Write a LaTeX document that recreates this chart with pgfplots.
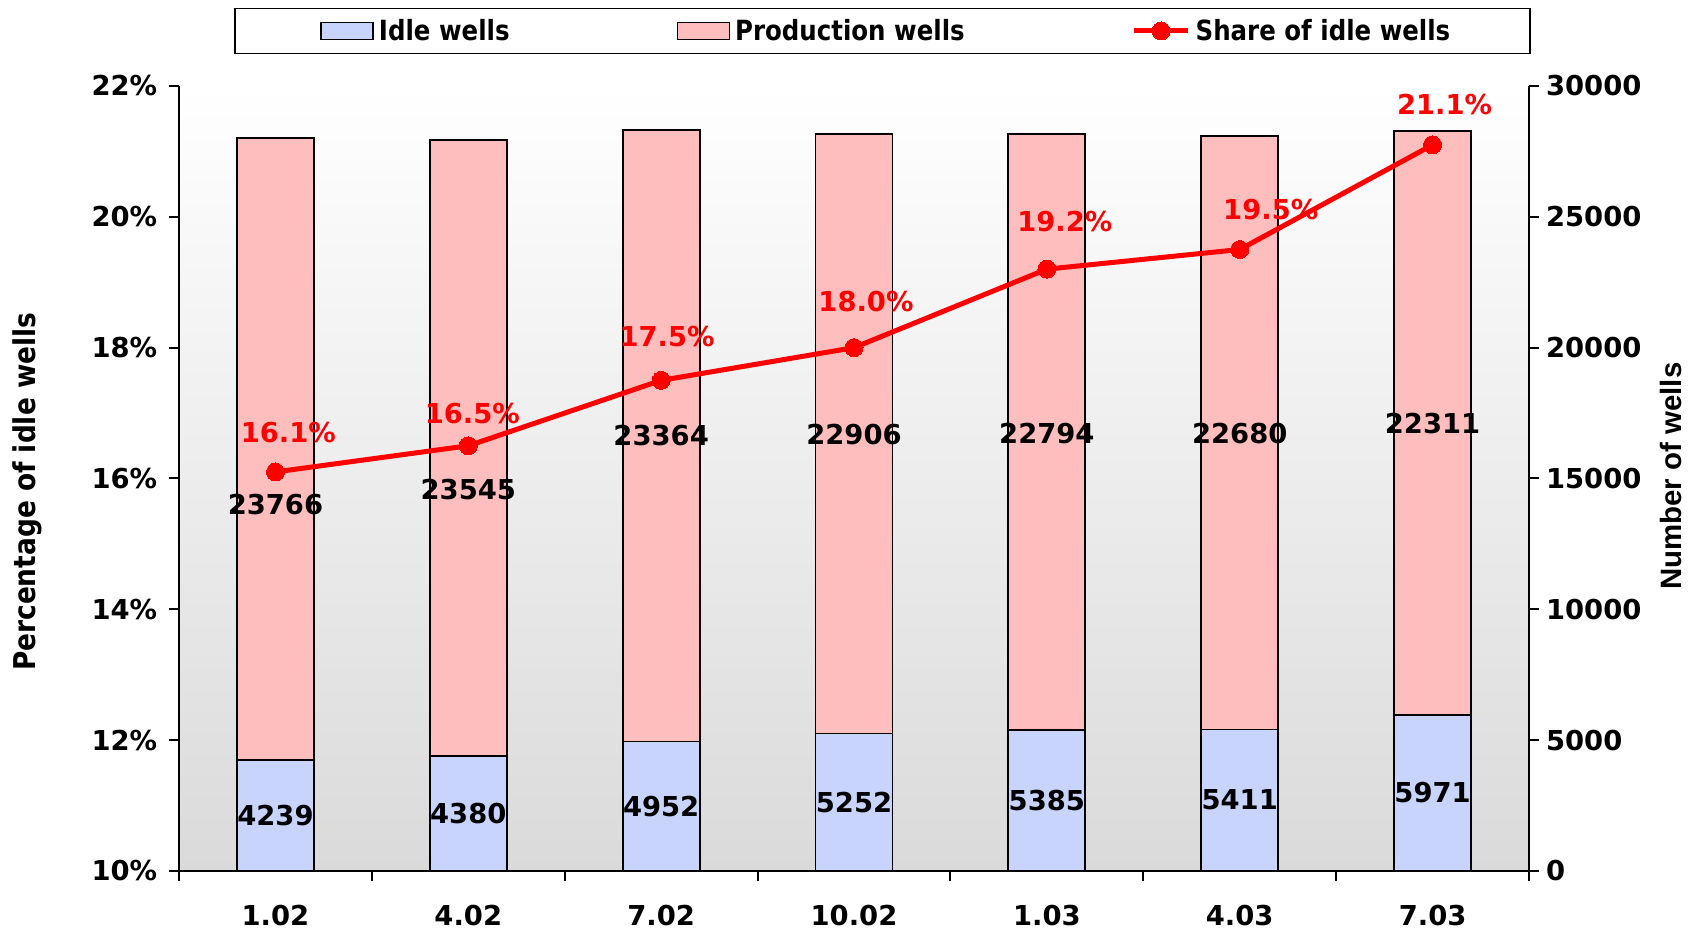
\documentclass[border=0pt]{standalone}
\usepackage{pgfplots}
\usepackage{pgfplotstable}
\pgfplotsset{compat=1.18}
\usepackage{fontspec}
\setmainfont{DejaVu Sans}
\newfontfamily\tahoma{DejaVu Sans}[FakeStretch=0.88]
\newfontfamily\arialf{Liberation Sans}
\definecolor{blueb}{RGB}{200,212,252}
\definecolor{pinkb}{RGB}{255,190,190}
\definecolor{bggray}{RGB}{218,218,218}
\newcommand\numfont{\fontsize{13.7}{16}\selectfont\bfseries}
\newcommand\legfont{\tahoma\fontsize{13.9}{16}\selectfont\bfseries}
\newcommand\ylabfont{\tahoma\fontsize{15}{18}\selectfont\bfseries}
\newcommand\rlabfont{\arialf\fontsize{14.7}{17}\selectfont\bfseries}

\pgfplotstableread{
x idle prod share
0 4239 23766 16.1
1 4380 23545 16.5
2 4952 23364 17.5
3 5252 22906 18.0
4 5385 22794 19.2
5 5411 22680 19.5
6 5971 22311 21.1
}\data

\pgfplotstableread{
x y lab
0 13987 23766
1 14561 23545
2 16624 23364
3 16662 22906
4 16712 22794
5 16712 22680
6 17083 22311
}\prodlab

\pgfplotstableread{
x y lab
0.067 16.71 16.1
1.021 16.99 16.5
2.031 18.17 17.5
3.062 18.70 18.0
4.093 19.93 19.2
5.161 20.11 19.5
6.062 21.71 21.1
}\sharelab

\pgfplotsset{
  barlegend/.style={legend image code/.code={\draw[##1] (0pt,-4.25pt) rectangle (26pt,4.25pt);}},
  linelegend/.style={legend image code/.code={\draw[##1, mark repeat=2, mark phase=2] plot coordinates {(0pt,0pt) (13.5pt,0pt) (27pt,0pt)};}},
  common/.style={width=675pt, height=392.5pt, scale only axis, at={(0,0)}, anchor=south west, xmin=-0.5, xmax=6.5},
}

\begin{document}
\begin{tikzpicture}
\useasboundingbox (-89.5pt,-29pt) rectangle (758.5pt,435.5pt);
% bars, right axis
\begin{axis}[common,
  ybar stacked, bar width=38.5pt,
  ymin=0, ymax=30000,
  scaled y ticks=false,
  axis y line*=right, axis x line*=bottom,
  axis line style={line width=1pt},
  ytick={0,5000,10000,15000,20000,25000,30000},
  yticklabels={0,5000,10000,15000,20000,25000,30000},
  xtick={-0.5,0.5,1.5,2.5,3.5,4.5,5.5,6.5},
  x tick label as interval,
  xticklabels={1.02,4.02,7.02,10.02,1.03,4.03,7.03},
  tick align=outside, major tick length=5pt,
  tick style={line width=1pt, black},
  ticklabel style={font=\numfont},
  xticklabel style={yshift=-8.7pt},
  axis background/.style={top color=white, bottom color=bggray},
  ylabel={Number of wells},
  ylabel style={font=\rlabfont, at={(axis description cs:1.105,0.503)}, anchor=center},
]
\addplot[fill=blueb, draw=black, line width=0.9pt] table[x=x,y=idle]{\data};
\addplot[fill=pinkb, draw=black, line width=0.9pt] table[x=x,y=prod]{\data};
\end{axis}
% count labels
\begin{axis}[common, ymin=0, ymax=30000, hide axis, clip=false]
\addplot[draw=none, mark=none, nodes near coords, point meta=explicit symbolic,
  every node near coord/.append style={anchor=center, font=\numfont, text=black}]
  table[x=x, y expr=\thisrow{idle}/2, meta=idle]{\data};
\addplot[draw=none, mark=none, nodes near coords, point meta=explicit symbolic,
  every node near coord/.append style={anchor=center, font=\numfont, text=black}]
  table[x=x, y=y, meta=lab]{\prodlab};
\end{axis}
% line, left axis
\begin{axis}[common, ymin=10, ymax=22, clip=false,
  axis y line*=left, axis x line=none,
  axis line style={line width=1pt},
  ytick={10,12,14,16,18,20,22},
  yticklabels={10\%,12\%,14\%,16\%,18\%,20\%,22\%},
  tick align=outside, major tick length=5pt,
  tick style={line width=1pt, black},
  ticklabel style={font=\numfont},
  yticklabel style={xshift=-2.4pt},
  ylabel={Percentage of idle wells},
  ylabel style={font=\ylabfont, at={(axis description cs:-0.1126,0.483)}, anchor=center},
  legend columns=3,
  legend style={at={(0.5211,1.0999)}, anchor=north, draw=black, line width=0.75pt, fill=white,
    font=\legfont, inner xsep=42.7pt, inner ysep=2.8pt, nodes={inner sep=2.5pt}, cells={anchor=west}},
]
\addlegendimage{barlegend, fill=blueb, draw=black, line width=0.75pt}
\addlegendentry{Idle wells\hspace*{81pt}}
\addlegendimage{barlegend, fill=pinkb, draw=black, line width=0.75pt}
\addlegendentry{Production wells\hspace*{81pt}}
\addplot[red, line width=2.5pt, mark=*, mark size=4.5pt, mark options={solid, fill=red, draw=red, line width=0pt}, linelegend]
  table[x=x,y=share]{\data};
\addlegendentry{Share of idle wells\hspace*{-5.4pt}}
\addplot[draw=none, mark=none, nodes near coords={\pgfplotspointmeta\%}, point meta=explicit symbolic,
  every node near coord/.append style={anchor=center, font=\numfont, text=red}]
  table[x=x, y=y, meta=lab]{\sharelab};
\end{axis}
\end{tikzpicture}
\end{document}
